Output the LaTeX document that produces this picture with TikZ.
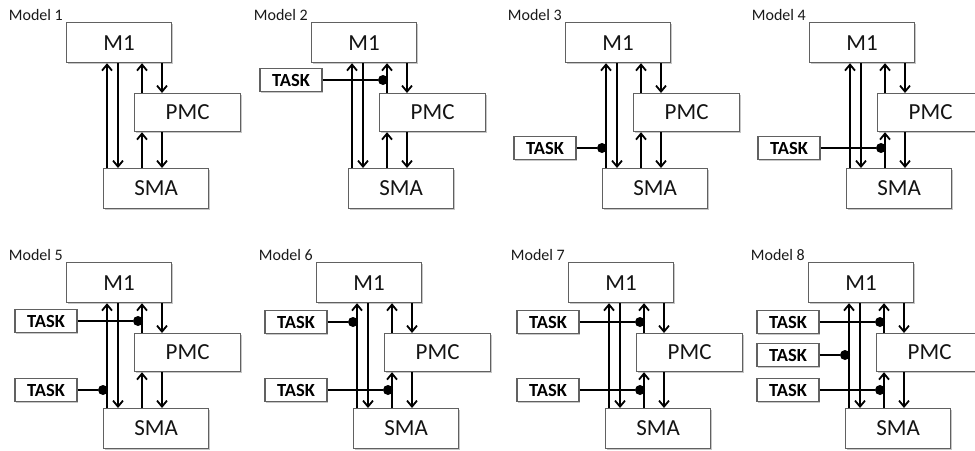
\documentclass[tikz,border=0pt]{standalone}
\usepackage{fontspec}
\setmainfont{Carlito}
\usetikzlibrary{arrows.meta,shadows}
\newcommand\modelpanel[4]{% #1 prefix, #2 left of M1, #3 top of M1, #4 number
  \node[box, minimum width=105pt, minimum height=40pt, anchor=north west] (#1m) at (#2,#3) {M1};
  \node[box, minimum width=106pt, minimum height=38pt, anchor=north west] (#1p) at (#2+68,#3+71) {PMC};
  \node[box, minimum width=105pt, minimum height=40pt, anchor=north west] (#1s) at (#2+37,#3+146) {SMA};
  \node[lbl, anchor=base east] (#1l) at (#2-3,#3-1.5) {Model #4};
  \coordinate (#1xa) at (#2+41,0);
  \coordinate (#1xb) at (#2+52,0);
  \coordinate (#1xc) at (#2+76,0);
  \coordinate (#1xd) at (#2+96,0);
  \draw[arr] (#1s.north -| #1xa) -- (#1m.south -| #1xa);
  \draw[arr] (#1m.south -| #1xb) -- (#1s.north -| #1xb);
  \draw[arr] (#1p.north -| #1xc) -- (#1m.south -| #1xc);
  \draw[arr] (#1m.south -| #1xd) -- (#1p.north -| #1xd);
  \draw[arr] (#1s.north -| #1xc) -- (#1p.south -| #1xc);
  \draw[arr] (#1p.south -| #1xd) -- (#1s.north -| #1xd);
}
\newcommand\taskin[5]{% #1 prefix, #2 id, #3 left of M1, #4 line y, #5 target x
  \node[taskbox] (#1t#2) at (#3-20,#4) {TASK};
  \node[dot] (#1d#2) at (#5-4,#4) {};
  \draw[taskline] (#1t#2.east) -- (#1d#2);
}
\begin{document}
\begin{tikzpicture}[x=1pt,y=-1pt,
  box/.style={draw=black!62, line width=1.2pt, fill=white, inner sep=0pt,
    text=black!92, font=\fontsize{23}{25}\selectfont,
    general shadow={fill=black!22, shadow xshift=1.3pt, shadow yshift=-1.3pt}},
  taskbox/.style={draw=black!62, line width=1.2pt, fill=white, inner sep=0pt,
    minimum width=62pt, minimum height=23pt, text=black,
    font=\fontsize{18.5}{20}\selectfont\bfseries,
    general shadow={fill=black!22, shadow xshift=1.2pt, shadow yshift=-1.2pt}},
  lbl/.style={inner sep=0pt, text=black!90, font=\fontsize{16}{18}\selectfont},
  arr/.style={line width=2pt, -{Straight Barb[length=6pt,width=10pt,line width=1.8pt]}},
  taskline/.style={line width=1.7pt},
  dot/.style={circle, fill=black, inner sep=0pt, minimum size=10pt}]
\clip (0,0) rectangle (975,450);
\fill[white] (0,0) rectangle (975,450);
% top row
\modelpanel{a}{66}{22}{1}
\modelpanel{b}{311}{22}{2}
\modelpanel{c}{565}{22}{3}
\modelpanel{d}{809}{22}{4}
% bottom row
\modelpanel{e}{66}{262}{5}
\modelpanel{f}{316}{262}{6}
\modelpanel{g}{568}{262}{7}
\modelpanel{h}{808}{262}{8}
% tasks
\taskin{b}{1}{311}{80}{311+76}
\taskin{c}{1}{565}{148}{565+41}
\taskin{d}{1}{809}{148}{809+76}
\taskin{e}{1}{66}{321}{66+76}
\taskin{e}{2}{66}{390}{66+41}
\taskin{f}{1}{316}{322}{316+41}
\taskin{f}{2}{316}{390}{316+76}
\taskin{g}{1}{568}{322}{568+76}
\taskin{g}{2}{568}{390}{568+76}
\taskin{h}{1}{808}{322}{808+76}
\taskin{h}{2}{808}{355}{808+41}
\taskin{h}{3}{808}{390}{808+76}
\end{tikzpicture}
\end{document}
